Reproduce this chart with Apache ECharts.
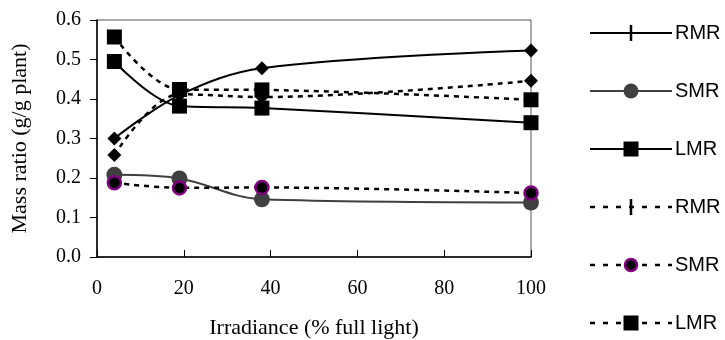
<!DOCTYPE html>
<html>
<head>
<meta charset="utf-8">
<script src="https://cdn.jsdelivr.net/npm/echarts@6/dist/echarts.min.js"></script>
<style>
  html, body { margin: 0; padding: 0; background: #fff; }
  #chart { width: 725px; height: 340px; }
</style>
</head>
<body>
<div id="chart"></div>
<script>
// Irradiance levels (% full light)
const irradiance = [4, 19, 38, 100];

// Mass ratios, first treatment (solid lines)
const rmrSolid = [0.300, 0.410, 0.478, 0.523];
const smrSolid = [0.208, 0.199, 0.146, 0.138];
const lmrSolid = [0.495, 0.382, 0.377, 0.340];

// Mass ratios, second treatment (dashed lines)
const rmrDashed = [0.258, 0.412, 0.405, 0.446];
const smrDashed = [0.188, 0.175, 0.176, 0.162];
const lmrDashed = [0.557, 0.424, 0.423, 0.398];

// Tick values and legend labels
const xTicks = [0, 20, 40, 60, 80, 100];
const yTicks = [0, 0.1, 0.2, 0.3, 0.4, 0.5, 0.6];
const legendLabels = ['RMR', 'SMR', 'LMR', 'RMR', 'SMR', 'LMR'];

const SERIF = '"Liberation Serif", "Times New Roman", serif';
const SANS = '"Liberation Sans", Arial, sans-serif';

const pairs = vals => irradiance.map((x, i) => [x, vals[i]]);

// Marker styles per series (plot markers; legend uses its own glyphs)
const styles = [
  { data: rmrSolid,  symbol: 'diamond', size: 14, line: { color: '#000', width: 2, type: 'solid' }, item: { color: '#000' } },
  { data: smrSolid,  symbol: 'circle',  size: 16, line: { color: '#404040', width: 2, type: 'solid' }, item: { color: '#404040' } },
  { data: lmrSolid,  symbol: 'rect',    size: 15, line: { color: '#000', width: 2, type: 'solid' }, item: { color: '#000' } },
  { data: rmrDashed, symbol: 'diamond', size: 14, line: { color: '#000', width: 2.5, type: [5, 5] }, item: { color: '#000' } },
  { data: smrDashed, symbol: 'circle',  size: 13, line: { color: '#000', width: 2.5, type: [5, 5] }, item: { color: '#000', borderColor: '#800080', borderWidth: 2.5 } },
  { data: lmrDashed, symbol: 'rect',    size: 15, line: { color: '#000', width: 2.5, type: [5, 5] }, item: { color: '#000' } }
];

const series = styles.map((s, i) => ({
  name: legendLabels[i] + '_' + i,
  type: 'line',
  data: pairs(s.data),
  smooth: 0.35,
  symbol: s.symbol,
  symbolSize: s.size,
  showAllSymbol: true,
  lineStyle: s.line,
  itemStyle: s.item,
  emphasis: { disabled: true },
  animation: false,
  z: 2 + i
}));

// Legend drawn as graphic rows: line sample, glyph, label
const legendTop = 33, legendStep = 58;
const lx1 = 590, lx2 = 672, lmid = 631;
const graphics = [];
legendLabels.forEach((label, i) => {
  const y = legendTop + i * legendStep;
  const dashed = i >= 3;
  const lineColor = i === 1 ? '#404040' : '#000';
  graphics.push({
    type: 'line',
    shape: { x1: lx1, y1: y, x2: lx2, y2: y },
    style: { stroke: lineColor, lineWidth: dashed ? 2.5 : 2, lineDash: dashed ? [5, 8] : null },
    silent: true
  });
  const kind = i % 3;
  if (kind === 0) {
    graphics.push({
      type: 'line',
      shape: { x1: lmid, y1: y - 8, x2: lmid, y2: y + 8 },
      style: { stroke: '#000', lineWidth: 2.5 },
      silent: true
    });
  } else if (kind === 1) {
    graphics.push({
      type: 'circle',
      shape: { cx: lmid, cy: y, r: dashed ? 6 : 7.5 },
      style: dashed ? { fill: '#000', stroke: '#800080', lineWidth: 2.5 } : { fill: '#404040' },
      silent: true
    });
  } else {
    graphics.push({
      type: 'rect',
      shape: { x: lmid - 7.5, y: y - 7.5, width: 15, height: 15 },
      style: { fill: '#000' },
      silent: true
    });
  }
  graphics.push({
    type: 'text',
    x: lx2 + 3,
    y: y,
    style: { text: label, font: '20px ' + SANS, fill: '#000', textVerticalAlign: 'middle', verticalAlign: 'middle' },
    silent: true
  });
});

const chart = echarts.init(document.getElementById('chart'), null, { renderer: 'canvas' });
chart.setOption({
  backgroundColor: '#fff',
  animation: false,
  grid: {
    left: 97, right: 194, top: 20, bottom: 83,
    outerBoundsMode: 'none',
    containLabel: false,
    show: true, borderColor: '#555', borderWidth: 1, backgroundColor: 'transparent'
  },
  xAxis: {
    type: 'value',
    min: xTicks[0], max: xTicks[xTicks.length - 1], interval: xTicks[1] - xTicks[0],
    name: 'Irradiance (% full light)',
    nameLocation: 'middle', nameGap: 60,
    nameTextStyle: { fontFamily: SERIF, fontSize: 22, color: '#000' },
    axisLine: { show: true, lineStyle: { color: '#000', width: 1.5 } },
    axisTick: { show: true, inside: true, length: 7, lineStyle: { color: '#000', width: 1 } },
    axisLabel: { fontFamily: SERIF, fontSize: 20, color: '#000', margin: 22 },
    splitLine: { show: false }
  },
  yAxis: {
    type: 'value',
    min: yTicks[0], max: yTicks[yTicks.length - 1], interval: 0.1,
    name: 'Mass ratio (g/g plant)',
    nameLocation: 'middle', nameGap: 66, nameRotate: 90,
    nameTextStyle: { fontFamily: SERIF, fontSize: 22, color: '#000' },
    axisLine: { show: true, lineStyle: { color: '#000', width: 1.5 } },
    axisTick: { show: true, inside: false, length: 7, lineStyle: { color: '#000', width: 1 } },
    axisLabel: { fontFamily: SERIF, fontSize: 20, color: '#000', margin: 16, formatter: v => v.toFixed(1) },
    splitLine: { show: false }
  },
  series: series,
  graphic: graphics
});
</script>
</body>
</html>
